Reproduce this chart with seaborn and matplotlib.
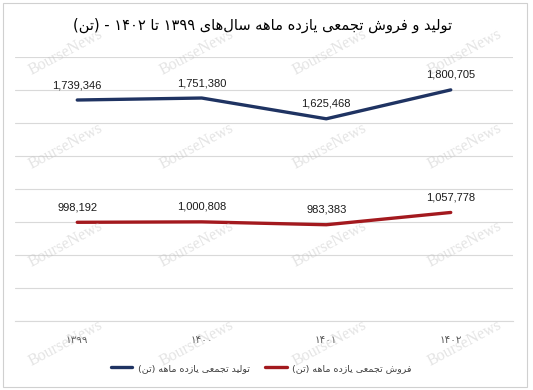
import numpy as np
import pandas as pd
import seaborn as sns
import matplotlib.pyplot as plt
from matplotlib.patches import Rectangle

# Data
years = ['۱۳۹۹', '۱۴۰۰', '۱۴۰۱', '۱۴۰۲']
production = [1739346, 1751380, 1625468, 1800705]
sales = [998192, 1000808, 983383, 1057778]

title = 'تولید و فروش تجمعی یازده ماهه سال‌های ۱۳۹۹ تا ۱۴۰۲ - (تن)'
production_label = 'تولید تجمعی یازده ماهه (تن)'
sales_label = 'فروش تجمعی یازده ماهه (تن)'

navy = '#1F3362'
red = '#A3191E'

# matplotlib has no Arabic shaping, so pick the presentation forms by hand
# (isolated, final, initial, medial); right-joining letters only have two
FORMS = {
    'ا': ('\ufe8d', '\ufe8e'),
    'د': ('\ufea9', '\ufeaa'),
    'ر': ('\ufead', '\ufeae'),
    'ز': ('\ufeaf', '\ufeb0'),
    'و': ('\ufeed', '\ufeee'),
    'ب': ('\ufe8f', '\ufe90', '\ufe91', '\ufe92'),
    'ت': ('\ufe95', '\ufe96', '\ufe97', '\ufe98'),
    'ج': ('\ufe9d', '\ufe9e', '\ufe9f', '\ufea0'),
    'س': ('\ufeb1', '\ufeb2', '\ufeb3', '\ufeb4'),
    'ش': ('\ufeb5', '\ufeb6', '\ufeb7', '\ufeb8'),
    'ع': ('\ufec9', '\ufeca', '\ufecb', '\ufecc'),
    'ف': ('\ufed1', '\ufed2', '\ufed3', '\ufed4'),
    'ل': ('\ufedd', '\ufede', '\ufedf', '\ufee0'),
    'م': ('\ufee1', '\ufee2', '\ufee3', '\ufee4'),
    'ن': ('\ufee5', '\ufee6', '\ufee7', '\ufee8'),
    'ه': ('\ufee9', '\ufeea', '\ufeeb', '\ufeec'),
    'ی': ('\ufbfc', '\ufbfd', '\ufbfe', '\ufbff'),
}
MIRROR = {'(': ')', ')': '('}


def shape_word(word):
    chars = list(word)
    out = []
    for i, c in enumerate(chars):
        if c not in FORMS:
            if c != '\u200c':
                out.append(c)
            continue
        prev = chars[i - 1] if i > 0 else ''
        nxt = chars[i + 1] if i + 1 < len(chars) else ''
        joins_prev = prev in FORMS and len(FORMS[prev]) == 4
        joins_next = len(FORMS[c]) == 4 and nxt in FORMS
        if joins_prev and joins_next:
            f = 3
        elif joins_prev:
            f = 1
        elif joins_next:
            f = 2
        else:
            f = 0
        out.append(FORMS[c][f])
    if word.isdigit():
        return ''.join(out)
    return ''.join(MIRROR.get(c, c) for c in reversed(out))


def rtl(text):
    return ' '.join(shape_word(w) for w in reversed(text.split(' ')))


sns.set_theme(style='white')
plt.rcParams['font.family'] = ['DejaVu Sans']

df = pd.DataFrame({
    'year': years * 2,
    'value': production + sales,
    'series': [rtl(production_label)] * len(years) + [rtl(sales_label)] * len(years),
})

fig = plt.figure(figsize=(5.33, 3.9), dpi=100)
ax = fig.add_axes([15 / 533, 69 / 390, 498 / 533, 264 / 390])

sns.lineplot(data=df, x='year', y='value', hue='series', palette=[navy, red],
             linewidth=2.4, sort=False, ax=ax, legend=True)

ax.set_xlim(-0.5, len(years) - 0.5)
ax.set_ylim(400000, 2000000)
ax.set_yticks(np.arange(400000, 2000001, 200000))
ax.yaxis.grid(True, color='#d9d9d9', linewidth=0.8)
ax.xaxis.grid(False)
ax.tick_params(axis='y', left=False, labelleft=False)
ax.tick_params(axis='x', bottom=False, pad=4, labelsize=7.5, labelcolor='#595959')
ax.set_xticks(range(len(years)))
ax.set_xticklabels(years)
ax.set_xlabel('')
ax.set_ylabel('')
for s in ax.spines.values():
    s.set_visible(False)
# the lowest gridline doubles as the category axis
ax.spines['bottom'].set_visible(True)
ax.spines['bottom'].set_color('#d9d9d9')
ax.spines['bottom'].set_linewidth(0.8)

# data labels above the points
for vals in (production, sales):
    for i, v in enumerate(vals):
        ax.annotate(f'{v:,}', (i, v), xytext=(0, 15), textcoords='offset pixels',
                    ha='center', va='center', fontsize=8, family='Liberation Sans',
                    color='#1a1a1a')

handles, labels = ax.get_legend_handles_labels()
ax.legend_.remove()
fig.legend(handles, labels, loc='center', bbox_to_anchor=(0.49, 0.056), ncol=2,
           frameon=False, fontsize=6.8, handlelength=2.3, handletextpad=0.6,
           columnspacing=1.6, labelcolor='#404040')

fig.text(263 / 533, 1 - 25 / 390, rtl(title), ha='center', va='center',
         fontsize=10.5, color='black')

# faint watermark
for wx in (66, 197, 330, 465):
    for wy in (52, 146, 244, 343):
        fig.text(wx / 533, 1 - wy / 390, 'BourseNews', rotation=28, ha='center',
                 va='center', fontsize=11.5, family='Liberation Serif',
                 color='#c4c4c4', alpha=0.45, zorder=10)

fig.patches.append(Rectangle((3 / 533, 3 / 390), 524 / 533, 384 / 390,
                             transform=fig.transFigure, fill=False,
                             edgecolor='#d0d0d0', linewidth=0.8))

fig.savefig('out.png', dpi=100)
